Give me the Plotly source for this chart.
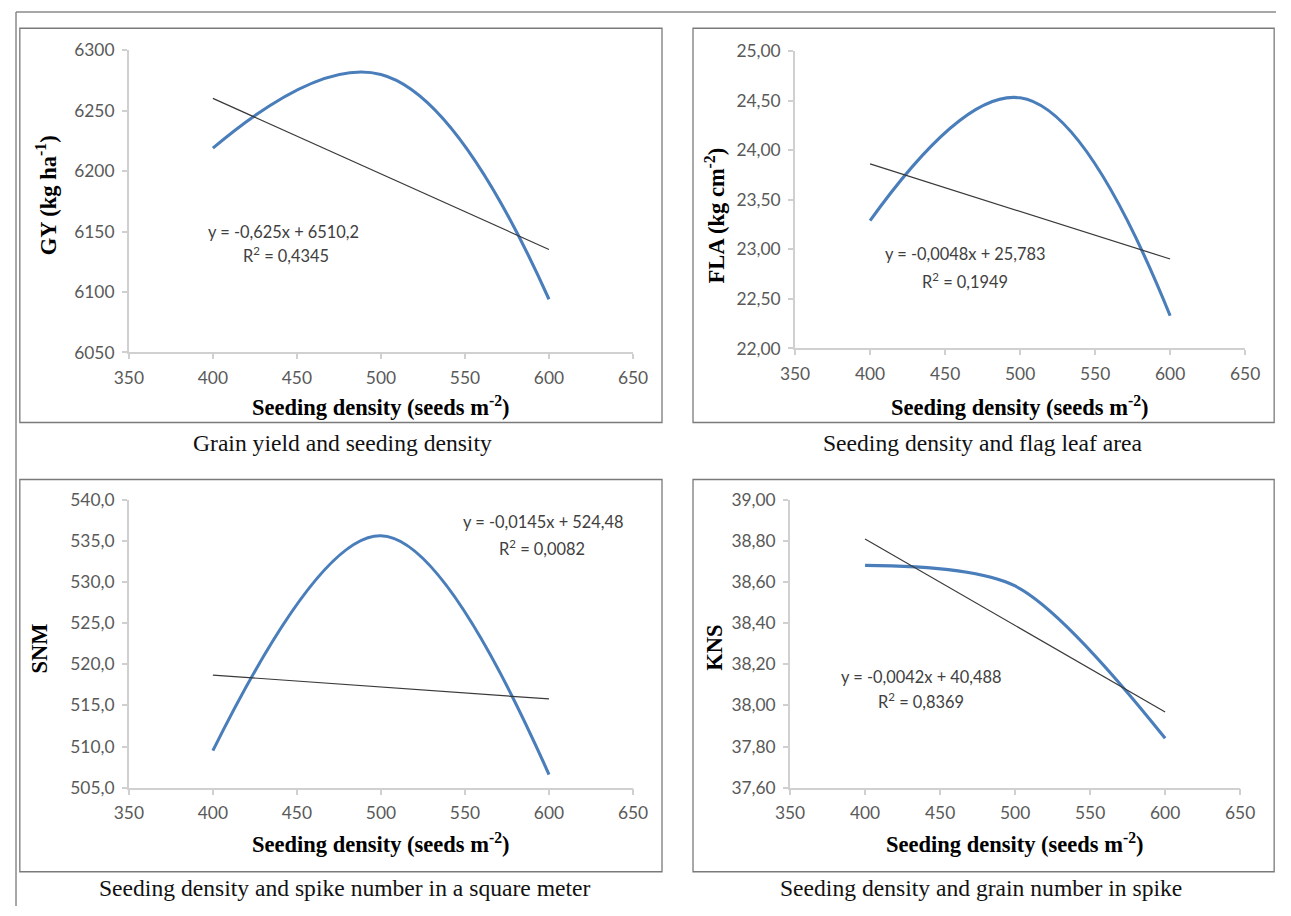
import plotly.graph_objects as go

W, H = 1291, 916

# ---------------- data ----------------
density = [400, 500, 600]
gy = [6219, 6280, 6094]
fla = [23.29, 24.53, 22.33]
snm = [509.5, 535.6, 506.6]
kns = [38.68, 38.58, 37.84]

# linear trend lines (from the equations printed on the chart)
trend_slope = [-0.625, -0.0048, -0.0145, -0.0042]
trend_intercept = [6510.2, 25.783, 524.48, 40.488]
r_squared = ["0,4345", "0,1949", "0,0082", "0,8369"]
eq_text = ["y = -0,625x + 6510,2", "y = -0,0048x + 25,783",
           "y = -0,0145x + 524,48", "y = -0,0042x + 40,488"]

x_ticks = [350, 400, 450, 500, 550, 600, 650]
y_ranges = [[6050, 6300], [22.0, 25.0], [505.0, 540.0], [37.6, 39.0]]
y_dticks = [50, 0.5, 5, 0.2]
y_formats = ["d", ".2f", ".1f", ".2f"]
y_titles = ["GY (kg ha<sup>-1</sup>)", "FLA (kg cm<sup>-2</sup>)", "SNM", "KNS"]
x_title = "Seeding density (seeds m<sup>-2</sup>)"
captions = ["Grain yield and seeding density",
            "Seeding density and flag leaf area",
            "Seeding density and spike number in a square meter",
            "Seeding density and grain number in spike"]
series = [gy, fla, snm, kns]

# ---------------- layout geometry (target pixels) ----------------
plot_px = [  # x0, x1, ytop, ybottom
    (129, 633, 50, 352),
    (795, 1245, 51, 348),
    (129, 633, 499, 787),
    (790, 1240, 499, 787),
]
box_px = [(20, 662, 28, 422), (693, 1274, 28, 422),
          (20, 662, 479, 871), (693, 1274, 479, 871)]
ytitle_px = [(47, 195), (715, 215), (40, 648), (715, 647)]
xtitle_px = [(381, 406), (1020, 406), (381, 842), (1015, 842)]
caption_px = [(343, 443), (983, 443), (345, 887), (981, 887)]
eq_px = [(284, 231, 286, 254), (965, 253, 965, 280),
         (544, 521, 542, 547), (921, 676, 921, 700)]
smooth = [1.2, 1.2, 1.1, 0.85]

# the photographed page comes out slightly shrunk about its centre;
# compensate so the final picture lands on the target pixels
S = 0.9765
CX, CY = W / 2, H / 2


def px(x):
    return min(max((CX + (x - CX) / S) / W, 0.0008), 1.0)


def py(y):
    return min(max(1 - (CY + (y - CY) / S) / H, 0.0), 0.9989)


def fs(v):
    return round(v / S, 1)


TICK_FONT = dict(family="Lato, Calibri, 'Open Sans', sans-serif", size=fs(17), color="#595959")
SERIF = "'Liberation Serif', 'Times New Roman', serif"

fig = go.Figure()
annotations = []
shapes = []

for i in range(4):
    n = "" if i == 0 else str(i + 1)
    xa, ya = "x" + n, "y" + n
    x0, x1, yt, yb = plot_px[i]
    fig.add_trace(go.Scatter(
        x=density, y=series[i], mode="lines",
        line=dict(color="#4A7EBB", width=fs(3), shape="spline", smoothing=smooth[i]),
        xaxis=xa, yaxis=ya, showlegend=False, hoverinfo="skip"))
    tx = [density[0], density[-1]]
    tyv = [trend_slope[i] * v + trend_intercept[i] for v in tx]
    fig.add_trace(go.Scatter(
        x=tx, y=tyv, mode="lines",
        line=dict(color="#3a3a3a", width=fs(1.2)),
        xaxis=xa, yaxis=ya, showlegend=False, hoverinfo="skip"))

    axis_common = dict(showgrid=False, zeroline=False, showline=True,
                       linecolor="#d0d0d0", linewidth=fs(1.5), ticks="outside",
                       ticklen=fs(5), tickcolor="#d0d0d0", tickwidth=fs(1.5),
                       tickfont=TICK_FONT, ticklabelstandoff=4)
    fig.layout["xaxis" + n] = dict(
        domain=[px(x0), px(x1)], range=[x_ticks[0], x_ticks[-1]],
        tickvals=x_ticks, anchor=ya, **axis_common)
    fig.layout["yaxis" + n] = dict(
        domain=[py(yb), py(yt)], range=y_ranges[i], dtick=y_dticks[i],
        tick0=y_ranges[i][0], tickformat=y_formats[i], anchor=xa,
        **axis_common)

    bx0, bx1, by0, by1 = box_px[i]
    shapes.append(dict(type="rect", xref="paper", yref="paper",
                       x0=px(bx0), x1=px(bx1), y0=py(by1), y1=py(by0),
                       line=dict(color="#7a7a7a", width=fs(1.3))))

    annotations.append(dict(
        text="<b>" + y_titles[i] + "</b>", textangle=-90,
        x=px(ytitle_px[i][0]), y=py(ytitle_px[i][1]), xref="paper", yref="paper",
        showarrow=False, xanchor="center", yanchor="middle",
        font=dict(family=SERIF, size=fs(22), color="#000000")))
    annotations.append(dict(
        text="<b>" + x_title + "</b>",
        x=px(xtitle_px[i][0]), y=py(xtitle_px[i][1]), xref="paper", yref="paper",
        showarrow=False, xanchor="center", yanchor="middle",
        font=dict(family=SERIF, size=fs(22), color="#000000")))
    annotations.append(dict(
        text=captions[i],
        x=px(caption_px[i][0]), y=py(caption_px[i][1]), xref="paper", yref="paper",
        showarrow=False, xanchor="center", yanchor="middle",
        font=dict(family=SERIF, size=fs(23), color="#111111")))
    ex, ey, rx, ry = eq_px[i]
    annotations.append(dict(
        text=eq_text[i], x=px(ex), y=py(ey), xref="paper", yref="paper",
        showarrow=False, xanchor="center", yanchor="middle",
        font=dict(family="Lato, Calibri, sans-serif", size=fs(16), color="#404040")))
    annotations.append(dict(
        text="R<sup>2</sup> = " + r_squared[i], x=px(rx), y=py(ry),
        xref="paper", yref="paper",
        showarrow=False, xanchor="center", yanchor="middle",
        font=dict(family="Lato, Calibri, sans-serif", size=fs(16), color="#404040")))

# outer frame (top and left edges)
shapes.append(dict(type="line", xref="paper", yref="paper",
                   x0=px(7), x1=1, y0=py(6), y1=py(6),
                   line=dict(color="#8a8a8a", width=1.5)))
shapes.append(dict(type="line", xref="paper", yref="paper",
                   x0=px(7), x1=px(7), y0=0, y1=py(6),
                   line=dict(color="#8a8a8a", width=1.5)))

fig.update_layout(
    width=W, height=H, margin=dict(l=0, r=0, t=0, b=0),
    paper_bgcolor="white", plot_bgcolor="white",
    separators=",.", showlegend=False,
    annotations=annotations, shapes=shapes)

fig.write_html(
    "out.html",
    config={"displayModeBar": False},
    post_script="document.body.style.margin='0';document.body.style.padding='0';"
                "document.documentElement.style.overflow='hidden';")
